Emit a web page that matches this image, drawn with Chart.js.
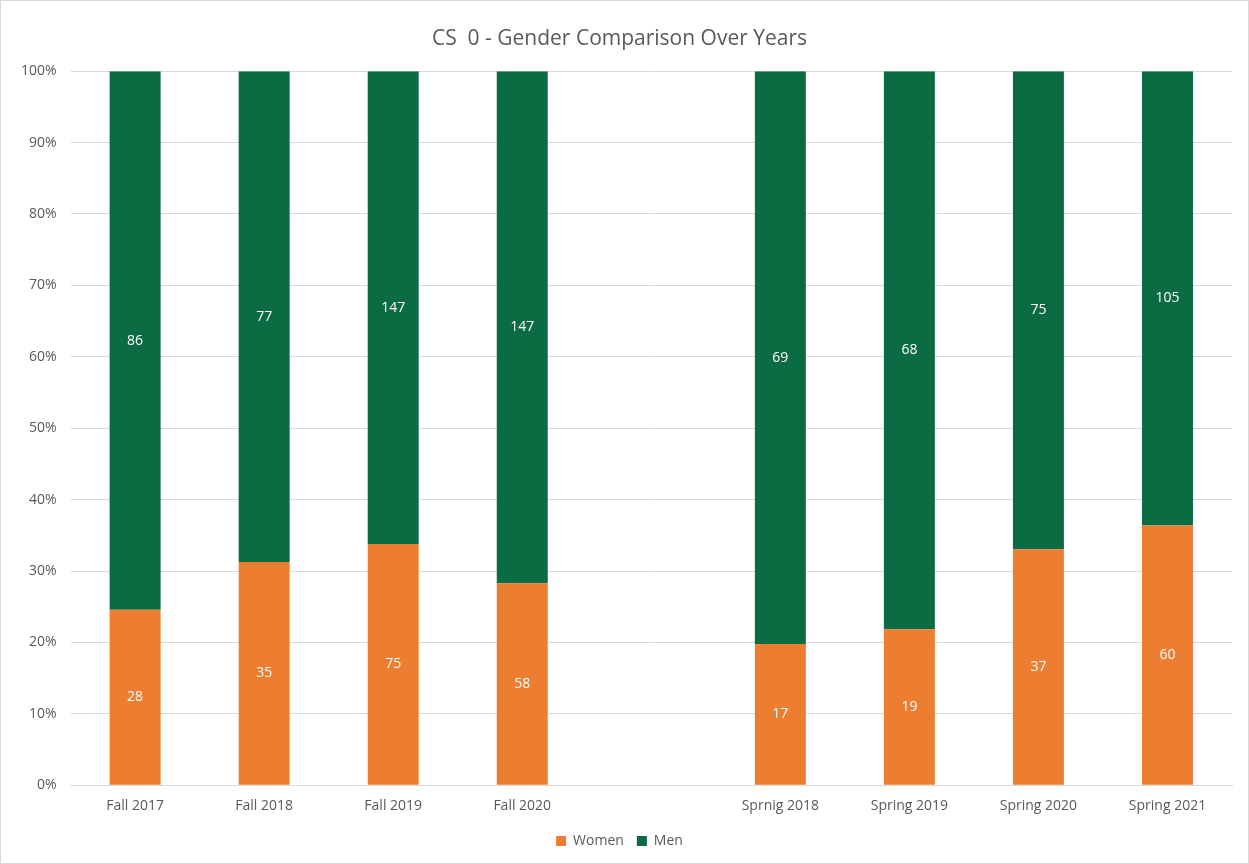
<!DOCTYPE html>
<html>
<head>
<meta charset="utf-8">
<script src="https://cdn.jsdelivr.net/npm/chart.js@4/dist/chart.umd.min.js"></script>
<style>
  html, body { margin: 0; padding: 0; background: #fff; }
  #wrap { position: relative; width: 1249px; height: 864px; box-sizing: border-box; border: 1px solid #d9d9d9; }
</style>
</head>
<body>
<div id="wrap"><canvas id="genderChart" width="1247" height="862"></canvas></div>
<script>
// 學期（中間留一個空位分隔秋季與春季）
const categories = ['Fall 2017', 'Fall 2018', 'Fall 2019', 'Fall 2020', '', 'Sprnig 2018', 'Spring 2019', 'Spring 2020', 'Spring 2021'];
const women = [28, 35, 75, 58, null, 17, 19, 37, 60];
const men = [86, 77, 147, 147, null, 69, 68, 75, 105];
const yTicks = [0, 10, 20, 30, 40, 50, 60, 70, 80, 90, 100];

// 換算成百分比，堆疊到 100%
function toPercent(arr) {
    return arr.map((v, i) => {
        if (v === null) return null;
        return v / (women[i] + men[i]) * 100;
    });
}

// 簡單的數值標籤插件，顯示原始人數
const countLabels = {
    id: 'countLabels',
    afterDatasetsDraw(chart) {
        const ctx = chart.ctx;
        ctx.save();
        ctx.fillStyle = '#ffffff';
        ctx.font = '14px "Open Sans", sans-serif';
        ctx.textAlign = 'center';
        ctx.textBaseline = 'middle';
        chart.data.datasets.forEach((ds, di) => {
            const meta = chart.getDatasetMeta(di);
            meta.data.forEach((bar, i) => {
                const raw = ds.counts[i];
                if (raw === null) return;
                const p = bar.getProps(['x', 'y', 'base'], true);
                ctx.fillText(String(raw), p.x, (p.y + p.base) / 2);
            });
        });
        ctx.restore();
    }
};

new Chart(document.getElementById('genderChart'), {
    type: 'bar',
    data: {
        labels: categories,
        datasets: [{
            label: 'Women',
            data: toPercent(women),
            counts: women,
            backgroundColor: '#ED7D31',
            categoryPercentage: 1,
            barPercentage: 0.395
        }, {
            label: 'Men',
            data: toPercent(men),
            counts: men,
            backgroundColor: '#0B6B42',
            categoryPercentage: 1,
            barPercentage: 0.395
        }]
    },
    options: {
        responsive: false,
        animation: false,
        layout: { padding: { left: 6, right: 16, top: 10, bottom: 5 } },
        plugins: {
            title: {
                display: true,
                text: 'CS  0 - Gender Comparison Over Years',
                color: '#595959',
                font: { family: '"Open Sans", sans-serif', size: 21, weight: 'normal' },
                padding: { top: 15, bottom: 20 }
            },
            legend: {
                position: 'bottom',
                labels: {
                    color: '#595959',
                    font: { family: '"Open Sans", sans-serif', size: 14 },
                    boxWidth: 10,
                    boxHeight: 10,
                    padding: 13
                }
            },
            tooltip: { enabled: false }
        },
        scales: {
            x: {
                stacked: true,
                grid: { display: false },
                border: { color: '#d9d9d9' },
                afterFit(axis) { axis.height += 3; },
                ticks: {
                    color: '#595959',
                    font: { family: '"Open Sans", sans-serif', size: 14 },
                    padding: 4,
                    maxRotation: 0,
                    autoSkip: false
                }
            },
            y: {
                stacked: true,
                min: 0,
                max: 100,
                afterBuildTicks(axis) {
                    axis.ticks = yTicks.map(v => ({ value: v }));
                },
                grid: { color: '#d9d9d9', drawTicks: false },
                border: { display: false },
                ticks: {
                    color: '#595959',
                    font: { family: '"Open Sans", sans-serif', size: 14 },
                    padding: 14,
                    callback: v => v + '%'
                }
            }
        }
    },
    plugins: [countLabels]
});
</script>
</body>
</html>
